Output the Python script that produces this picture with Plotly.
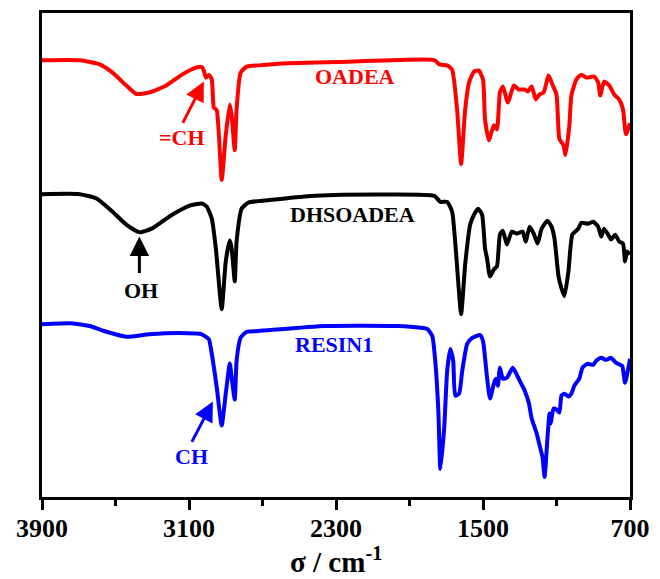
import plotly.graph_objects as go

# FTIR spectra, stacked transmittance (a.u.) against wavenumber (cm-1)
oadea_wn = [3900, 3695, 3586, 3516, 3441, 3386, 3316, 3224, 3138, 3062, 3030, 3019, 3008, 2992,
            2976, 2965, 2949, 2922, 2900, 2878, 2868, 2851, 2841, 2819, 2786, 2722, 2597, 2235,
            1765, 1738, 1695, 1668, 1641, 1619, 1597, 1576, 1549, 1522, 1500, 1489, 1468, 1441,
            1424, 1408, 1392, 1365, 1332, 1305, 1273, 1257, 1235, 1213, 1192, 1170, 1143, 1122,
            1100, 1084, 1062, 1051, 1030, 1019, 992, 965, 938, 895, 873, 862, 841, 813, 786, 759,
            738, 722, 700]
oadea_t = [439.5, 439.5, 435.3, 427, 414, 405.5, 407, 414, 425, 432, 432.7, 429, 422, 424.7,
           420.3, 392, 389, 319, 364, 395, 384, 349, 390, 427, 433, 434.3, 436.3, 438,
           439.7, 435.3, 434.3, 430, 390, 335, 390, 417, 428, 429, 420, 380, 359, 374,
           370, 407, 413, 397, 414, 410, 410, 408, 413, 400, 405, 407, 424, 415,
           405, 360, 354, 344, 374, 404, 420, 425, 422, 423, 417, 404, 418, 414, 405, 400,
           390, 365, 376]

dhsoadea_wn = [3900, 3695, 3603, 3516, 3441, 3370, 3300, 3192, 3100, 3030, 3003, 2976, 2954,
               2922, 2900, 2878, 2868, 2851, 2841, 2813, 2776, 2722, 2413, 2057, 1765, 1732,
               1695, 1668, 1646, 1619, 1597, 1570, 1549, 1527, 1505, 1489, 1478, 1462, 1441,
               1424, 1408, 1392, 1370, 1343, 1316, 1284, 1268, 1246, 1224, 1203, 1181, 1149,
               1127, 1111, 1089, 1073, 1057, 1035, 1014, 981, 965, 927, 900, 873, 857, 841,
               813, 803, 781, 759, 738, 727, 716, 700]
dhsoadea_t = [304.7, 304.7, 300.3, 287, 274, 266.3, 270.3, 284, 293, 295.3, 292, 280.3, 250.3,
              189, 237, 258, 250.3, 217, 257, 290.3, 296.3, 297.7, 303, 304.3, 303, 297,
              297, 287, 244, 184, 234, 274, 284, 290, 284, 250, 240, 222, 229,
              232, 264, 268, 254, 267, 265, 267, 257, 272, 265, 255, 270, 278,
              272, 260, 222, 210, 202, 227, 264, 270, 276, 275, 277, 272, 262, 270,
              262, 259, 264, 257, 255, 237, 247, 244]

resin1_wn = [3900, 3732, 3641, 3549, 3441, 3316, 3154, 3030, 2992, 2976, 2949, 2922, 2900,
             2878, 2868, 2851, 2841, 2819, 2786, 2722, 2360, 1965, 1840, 1803, 1776, 1760,
             1743, 1732, 1711, 1695, 1678, 1662, 1651, 1630, 1613, 1586, 1559, 1516, 1500,
             1478, 1462, 1441, 1430, 1419, 1408, 1392, 1370, 1338, 1316, 1295, 1273, 1251,
             1235, 1208, 1192, 1176, 1165, 1149, 1138, 1132, 1116, 1100, 1084, 1073, 1057,
             1035, 1019, 1003, 976, 959, 932, 900, 884, 857, 830, 803, 776, 743, 727, 700]
resin1_t = [173.7, 174.7, 172, 166.3, 161.3, 163.7, 165, 163.7, 158.7, 144, 110.3, 72, 104,
            134.3, 120.3, 98, 137, 160.3, 166.3, 167, 172, 172, 170.3, 169, 162, 137,
            87, 28, 70, 127, 149, 137, 102, 104, 127, 154, 160, 163, 157,
            120, 99, 114, 119, 112, 130, 119, 120, 130, 123, 115, 107, 95,
            79, 64, 52, 40, 20, 60, 84, 74, 89, 88, 85, 102, 104,
            101, 104, 112, 119, 130, 134, 133, 137, 140, 138, 140, 135, 132, 115, 139]

names = ["OADEA", "DHSOADEA", "RESIN1"]
colors = ["#FF0000", "#000000", "#0000FF"]
x_ticks = [3900, 3100, 2300, 1500, 700]
x_minor = [3500, 2700, 1900, 1100]
x_title = "σ / cm<sup>-1</sup>"

series = [(oadea_wn, oadea_t), (dhsoadea_wn, dhsoadea_t), (resin1_wn, resin1_t)]

fig = go.Figure()
for (wn, t), name, c in zip(series, names, colors):
    fig.add_trace(go.Scatter(x=wn, y=t, mode="lines", name=name,
                             line=dict(color=c, width=4, shape="spline", smoothing=0.5)))

serif = "Liberation Serif, Times New Roman, serif"

# spectrum names
label_pos = [(2197, 423), (2211, 284), (2311, 153)]
for name, c, (lx, ly) in zip(names, colors, label_pos):
    fig.add_annotation(x=lx, y=ly, text=name, showarrow=False,
                       font=dict(family=serif, size=22, color=c, weight="bold"))

# band assignments with arrows: (text, colour, text pos, arrow tail, arrow tip)
bands = [
    ("=CH", "#FF0000", (3140, 362), (3138, 375), (3019, 418)),
    ("OH", "#000000", (3362, 208), (3370, 224), (3370, 262)),
    ("CH", "#0000FF", (3084, 40.5), (3089, 54), (2970, 96)),
]
for txt, c, (tx, ty), (ax, ay), (hx, hy) in bands:
    fig.add_annotation(x=tx, y=ty, text=txt, showarrow=False,
                       font=dict(family=serif, size=22, color=c, weight="bold"))
    fig.add_annotation(x=hx, y=hy, ax=ax, ay=ay, axref="x", ayref="y", text="",
                       showarrow=True, arrowhead=2, arrowsize=1.3, arrowwidth=3,
                       arrowcolor=c, standoff=0)

# x-axis title placed just under the tick labels
fig.add_annotation(x=0.5, y=-0.131, xref="paper", yref="paper", xanchor="center",
                   yanchor="middle", text=x_title, showarrow=False, borderpad=0,
                   font=dict(family=serif, size=29, color="black", weight="bold"))

fig.update_layout(
    width=660, height=579,
    margin=dict(l=42, r=26, t=10, b=82),
    paper_bgcolor="white", plot_bgcolor="white",
    showlegend=False,
    xaxis=dict(range=[3900, 700], tickvals=x_ticks, ticktext=[str(v) for v in x_ticks],
               ticks="outside", ticklen=10, tickwidth=3, tickcolor="black",
               ticklabelstandoff=-4,
               minor=dict(tickvals=x_minor, ticks="outside", ticklen=6, tickwidth=3,
                          tickcolor="black"),
               showline=True, linewidth=3, linecolor="black", mirror=True,
               showgrid=False, zeroline=False,
               tickfont=dict(family=serif, size=26, color="black", weight="bold")),
    yaxis=dict(range=[0, 487], showticklabels=False, ticks="", showgrid=False,
               zeroline=False, showline=True, linewidth=3, linecolor="black", mirror=True),
)

fig.write_html("out.html")
